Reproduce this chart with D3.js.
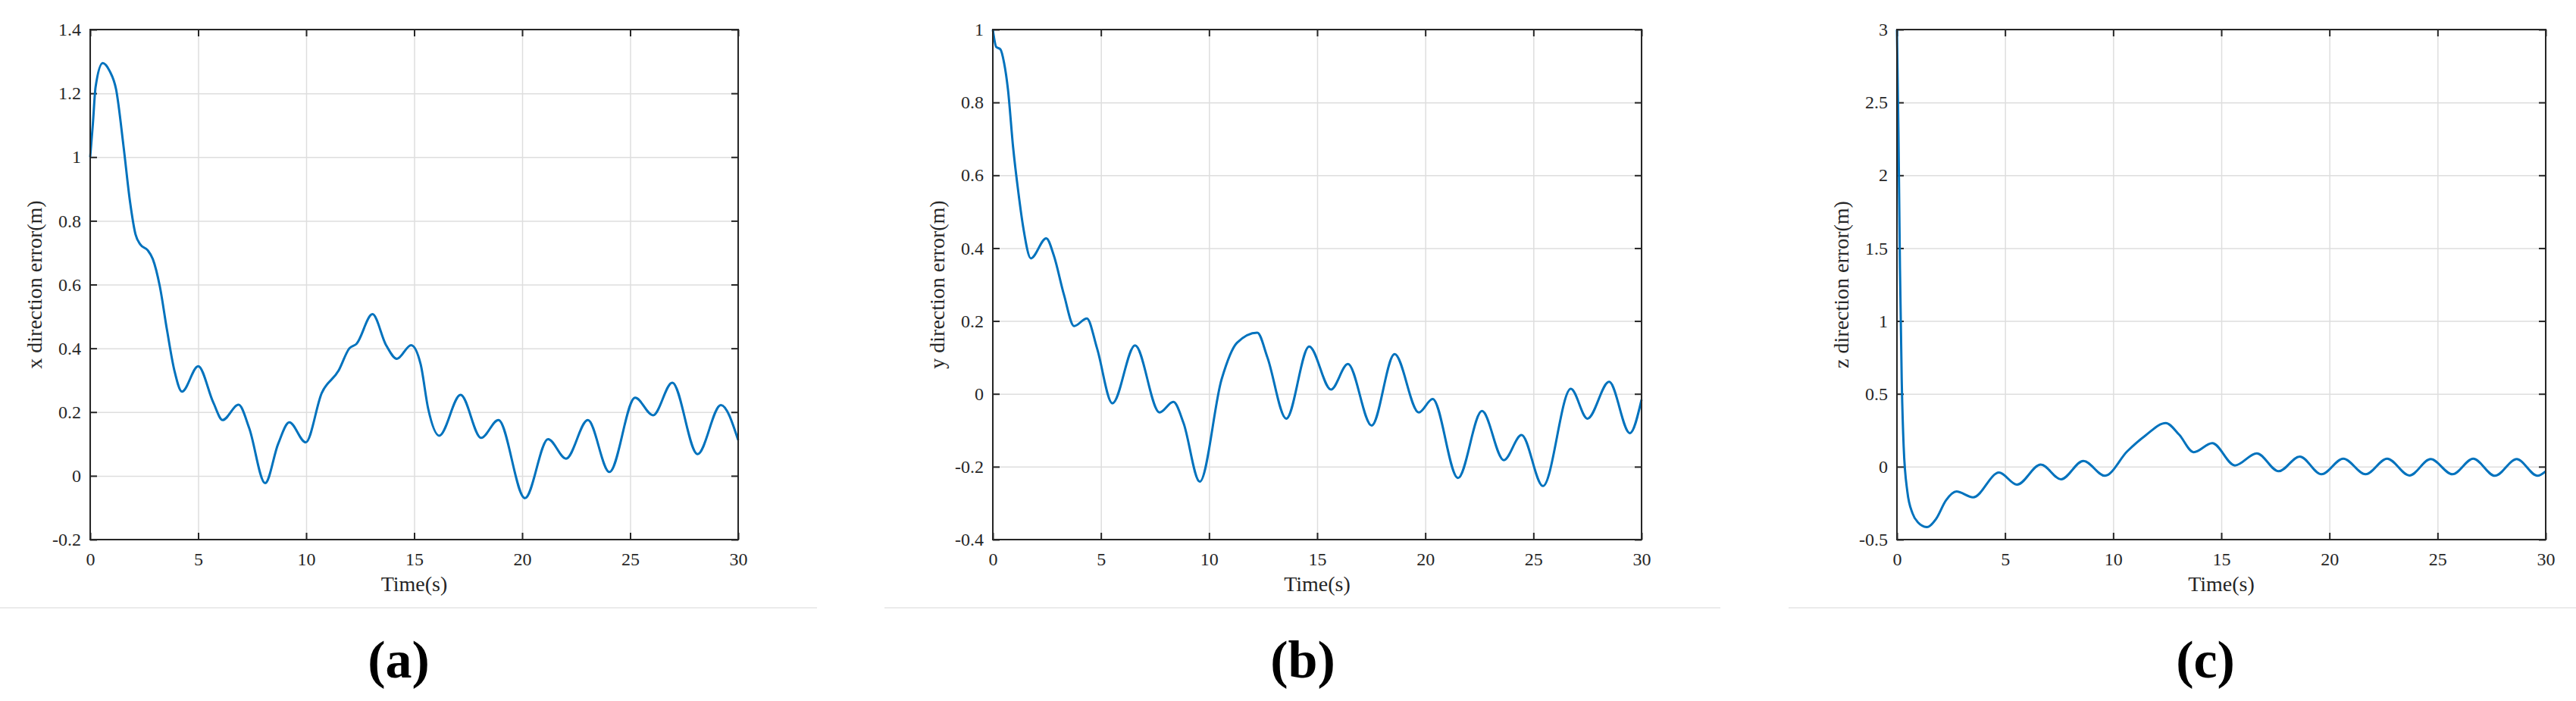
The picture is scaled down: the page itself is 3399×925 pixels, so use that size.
<!DOCTYPE html>
<html>
<head>
<meta charset="utf-8">
<script src="https://cdn.jsdelivr.net/npm/d3@7"></script>
<style>
    body { margin: 0; background: #fff; }
    svg { display: block; }
    text { font-family: "Liberation Serif", "Times New Roman", serif; fill: #262626; }
</style>
</head>
<body>
<svg id="chart" width="3399" height="925"></svg>
<script>
// x direction error
const tA = [0, 0.12, 0.25, 0.58, 0.9, 1.2, 1.55, 1.84, 2.1, 2.33, 2.66, 2.9, 3.22, 3.56, 3.9, 4.25, 5.0, 5.7, 6.13, 6.87, 7.36, 8.1, 8.7, 9.22, 9.98, 10.72, 11.5, 12.0, 12.33, 13.07, 13.7, 14.2, 14.86, 15.3, 15.65, 16.16, 17.15, 18.1, 18.9, 20.13, 21.2, 22.03, 23.04, 24.04, 25.23, 26.06, 26.95, 28.12, 29.2, 30];
const xErr = [1.0, 1.1, 1.22, 1.295, 1.27, 1.212, 1.03, 0.862, 0.757, 0.725, 0.708, 0.68, 0.596, 0.456, 0.33, 0.264, 0.344, 0.23, 0.175, 0.223, 0.15, -0.023, 0.1, 0.168, 0.105, 0.26, 0.33, 0.4, 0.414, 0.507, 0.41, 0.367, 0.41, 0.35, 0.21, 0.126, 0.254, 0.119, 0.175, -0.07, 0.115, 0.054, 0.175, 0.012, 0.245, 0.19, 0.292, 0.068, 0.222, 0.112];

// y direction error, panel (b)
const tB = [0, 0.16, 0.35, 0.52, 0.7, 0.94, 1.18, 1.41, 1.76, 2.47, 2.82, 3.29, 3.76, 4.35, 4.82, 5.53, 6.58, 7.71, 8.35, 8.82, 9.57, 10.58, 11.29, 12.23, 12.7, 13.57, 14.63, 15.64, 16.42, 17.52, 18.58, 19.7, 20.34, 21.51, 22.62, 23.63, 24.45, 25.44, 26.73, 27.5, 28.5, 29.46, 30];
const yErr = [1.0, 0.952, 0.946, 0.909, 0.836, 0.676, 0.554, 0.456, 0.372, 0.427, 0.38, 0.272, 0.186, 0.207, 0.125, -0.026, 0.133, -0.051, -0.022, -0.08, -0.241, 0.04, 0.14, 0.168, 0.1, -0.068, 0.13, 0.012, 0.082, -0.087, 0.109, -0.051, -0.014, -0.231, -0.047, -0.182, -0.113, -0.253, 0.014, -0.068, 0.033, -0.108, -0.016];

// z direction error, panel (c)
const tC = [0, 0.07, 0.14, 0.22, 0.31, 0.48, 0.72, 0.96, 1.39, 1.8, 2.27, 2.75, 3.52, 4.72, 5.55, 6.65, 7.59, 8.62, 9.62, 10.65, 11.49, 12.43, 13.05, 13.72, 14.58, 15.63, 16.64, 17.65, 18.63, 19.63, 20.64, 21.67, 22.67, 23.7, 24.68, 25.69, 26.65, 27.65, 28.66, 29.62, 30];
const zErr = [3.0, 2.28, 1.36, 0.6, 0.14, -0.17, -0.32, -0.38, -0.414, -0.36, -0.23, -0.17, -0.21, -0.04, -0.123, 0.015, -0.086, 0.04, -0.062, 0.106, 0.214, 0.3, 0.22, 0.1, 0.162, 0.009, 0.092, -0.031, 0.07, -0.052, 0.055, -0.052, 0.055, -0.06, 0.052, -0.052, 0.055, -0.062, 0.052, -0.062, -0.031];

const timeTicks = [0, 5, 10, 15, 20, 25, 30];
const yTicksA = [-0.2, 0, 0.2, 0.4, 0.6, 0.8, 1, 1.2, 1.4];
const yTicksB = [-0.4, -0.2, 0, 0.2, 0.4, 0.6, 0.8, 1];
const yTicksC = [-0.5, 0, 0.5, 1, 1.5, 2, 2.5, 3];

const panels = [
    {left: 119, right: 974, t: tA, v: xErr, ticks: yTicksA, ylabel: "x direction error(m)", tag: "(a)", tagX: 526, sep: [0, 1078]},
    {left: 1310, right: 2166, t: tB, v: yErr, ticks: yTicksB, ylabel: "y direction error(m)", tag: "(b)", tagX: 1719, sep: [1167, 2270]},
    {left: 2503, right: 3359, t: tC, v: zErr, ticks: yTicksC, ylabel: "z direction error(m)", tag: "(c)", tagX: 2910, sep: [2360, 3399]}
];

const plotTop = 39, plotBottom = 712;
const serif = "Liberation Serif, Times New Roman, serif";
const svg = d3.select("#chart");

panels.forEach((p, i) => drawPanel(p, i));

function drawPanel(p, i) {
    const w = p.right - p.left, h = plotBottom - plotTop;
    const x = d3.scaleLinear().domain([0, 30]).range([0, w]);
    const y = d3.scaleLinear().domain(d3.extent(p.ticks)).range([h, 0]);
    const fmt = (d) => String(d);

    const g = svg.append("g").attr("transform", `translate(${p.left},${plotTop})`);

    // grid
    g.append("g").attr("class", "grid")
        .attr("transform", `translate(0,${h})`)
        .call(d3.axisBottom(x).tickValues(timeTicks).tickSize(-h).tickFormat(""));
    g.append("g").attr("class", "grid")
        .call(d3.axisLeft(y).tickValues(p.ticks).tickSize(-w).tickFormat(""));
    g.selectAll(".grid line").attr("stroke", "#dedede").attr("stroke-width", 1.5);
    g.selectAll(".grid .domain").remove();

    // ticks on all four sides, pointing in
    const bx = g.append("g").attr("transform", `translate(0,${h})`)
        .call(d3.axisBottom(x).tickValues(timeTicks).tickSizeInner(-9).tickSizeOuter(0).tickPadding(17).tickFormat(fmt));
    const ly = g.append("g")
        .call(d3.axisLeft(y).tickValues(p.ticks).tickSizeInner(-9).tickSizeOuter(0).tickPadding(12).tickFormat(fmt));
    const tx = g.append("g")
        .call(d3.axisTop(x).tickValues(timeTicks).tickSizeInner(-9).tickSizeOuter(0).tickFormat(""));
    const ry = g.append("g").attr("transform", `translate(${w},0)`)
        .call(d3.axisRight(y).tickValues(p.ticks).tickSizeInner(-9).tickSizeOuter(0).tickFormat(""));
    [bx, ly, tx, ry].forEach((a) => {
        a.attr("font-family", serif).attr("font-size", 24);
        a.select(".domain").remove();
        a.selectAll("line").attr("stroke", "#262626").attr("stroke-width", 2);
        a.selectAll("text").attr("fill", "#262626");
    });

    g.append("clipPath").attr("id", "clip" + i)
        .append("rect").attr("x", -2).attr("y", -2).attr("width", w + 4).attr("height", h + 4);

    const line = d3.line()
        .x((d) => x(d[0]))
        .y((d) => y(d[1]))
        .curve(d3.curveMonotoneX);

    g.append("path")
        .datum(d3.zip(p.t, p.v))
        .attr("clip-path", `url(#clip${i})`)
        .attr("fill", "none")
        .attr("stroke", "#0072BD")
        .attr("stroke-width", 3)
        .attr("stroke-linejoin", "round")
        .attr("d", line);

    g.append("rect")
        .attr("width", w).attr("height", h)
        .attr("fill", "none").attr("stroke", "#262626").attr("stroke-width", 2);

    g.append("text")
        .attr("x", w / 2).attr("y", h + 68)
        .attr("text-anchor", "middle")
        .style("font-size", "28px")
        .text("Time(s)");

    g.append("text")
        .attr("transform", `translate(-74,${h / 2}) rotate(-90)`)
        .attr("dy", "0.35em")
        .attr("text-anchor", "middle")
        .style("font-size", "28px")
        .text(p.ylabel);

    svg.append("line")
        .attr("x1", p.sep[0]).attr("x2", p.sep[1])
        .attr("y1", 802).attr("y2", 802)
        .attr("stroke", "#ebebeb").attr("stroke-width", 2);

    svg.append("text")
        .attr("x", p.tagX).attr("y", 869)
        .attr("dy", "0.35em")
        .attr("text-anchor", "middle")
        .style("font-size", "70px")
        .style("font-weight", "bold")
        .style("fill", "#000")
        .text(p.tag);
}
</script>
</body>
</html>
